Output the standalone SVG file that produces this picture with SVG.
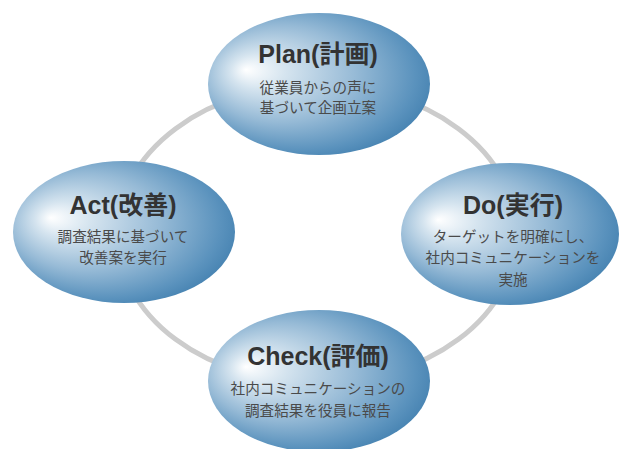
<svg xmlns="http://www.w3.org/2000/svg" width="619" height="449" viewBox="0 0 619 449">
<defs>
<radialGradient id="g" cx="0.45" cy="0.45" r="0.62" fx="0.17" fy="0.4">
<stop offset="0" stop-color="#ffffff"/>
<stop offset="0.2" stop-color="#d5e4ef"/>
<stop offset="0.55" stop-color="#96bad6"/>
<stop offset="0.85" stop-color="#5a92bd"/>
<stop offset="1" stop-color="#3f7dad"/>
</radialGradient>
</defs>
<style>
.node{fill:url(#g);}
.t{font-family:"Liberation Sans","Noto Sans CJK JP",sans-serif;font-weight:bold;font-size:25px;fill:#333333;text-anchor:middle;}
.s{font-family:"Noto Sans CJK JP",sans-serif;font-size:14.6px;fill:#4a4a4a;text-anchor:middle;}
.ring{fill:none;stroke:#cccccc;stroke-width:5;}
</style>
<rect width="619" height="449" fill="#ffffff"/>
<g id="connectors">
<ellipse class="ring" cx="317" cy="234" rx="200" ry="149"/>
</g>
<g id="plan">
<ellipse class="node" cx="319" cy="84" rx="111" ry="71"/>
<text class="t" x="318" y="63">Plan(計画)</text>
<text class="s" x="318" y="93">従業員からの声に</text>
<text class="s" x="318" y="113">基づいて企画立案</text>
</g>
<g id="act">
<ellipse class="node" cx="124" cy="232" rx="111" ry="71"/>
<text class="t" x="123" y="214">Act(改善)</text>
<text class="s" x="123" y="242">調査結果に基づいて</text>
<text class="s" x="123" y="263">改善案を実行</text>
</g>
<g id="do">
<ellipse class="node" cx="510" cy="234" rx="109" ry="71"/>
<text class="t" x="513" y="214">Do(実行)</text>
<text class="s" x="513" y="242">ターゲットを明確にし、</text>
<text class="s" x="513" y="263">社内コミュニケーションを</text>
<text class="s" x="513" y="285">実施</text>
</g>
<g id="check">
<ellipse class="node" cx="319" cy="381" rx="111" ry="71"/>
<text class="t" x="318" y="365">Check(評価)</text>
<text class="s" x="318" y="394">社内コミュニケーションの</text>
<text class="s" x="318" y="416">調査結果を役員に報告</text>
</g>
</svg>
